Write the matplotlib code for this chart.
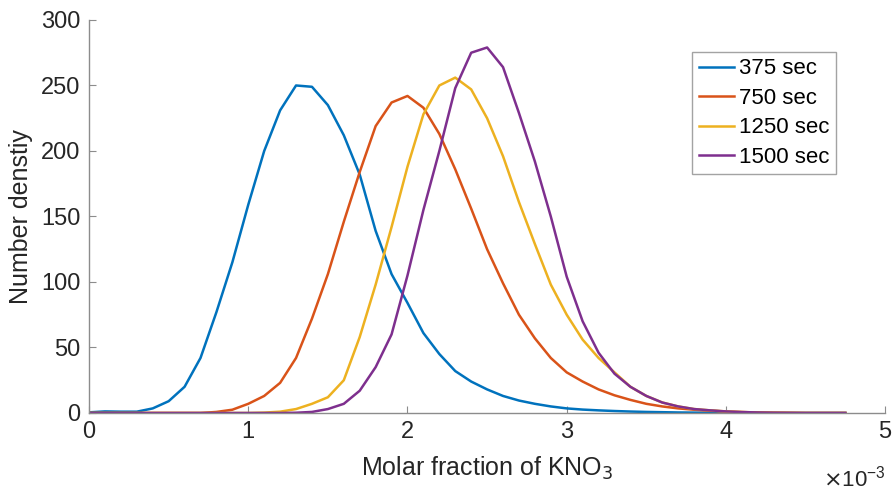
import numpy as np
import matplotlib
matplotlib.use('Agg')
import matplotlib.pyplot as plt

plt.rcParams['font.family'] = ['Liberation Sans', 'DejaVu Sans']

# molar fraction, in units of 1e-3
x = [0.0, 0.1, 0.2, 0.3, 0.4, 0.5, 0.6, 0.7, 0.8, 0.9,
     1.0, 1.1, 1.2, 1.3, 1.4, 1.5, 1.6, 1.7, 1.8, 1.9,
     2.0, 2.1, 2.2, 2.3, 2.4, 2.5, 2.6, 2.7, 2.8, 2.9,
     3.0, 3.1, 3.2, 3.3, 3.4, 3.5, 3.6, 3.7, 3.8, 3.9,
     4.0, 4.1, 4.2, 4.3, 4.4, 4.5, 4.6, 4.75]

n375 = [0.5, 1.2, 1.0, 1.0, 3.5, 9, 20, 42, 77, 115,
        159, 200, 231, 250, 249, 235, 212, 182, 139, 106,
        84, 61, 45, 32, 24, 18, 13, 9.5, 7, 5,
        3.5, 2.6, 2, 1.5, 1.1, 0.8, 0.6, 0.4, 0.3, 0.2,
        0.1, 0, 0, 0, 0, 0, 0, 0]

n750 = [0, 0, 0, 0, 0, 0, 0, 0, 0.8, 2.5,
        7, 13, 23, 42, 72, 106, 146, 184, 219, 237,
        242, 233, 213, 186, 156, 125, 99, 75, 57, 42,
        31, 24, 18, 13.5, 10, 7, 5, 3.5, 2.5, 1.7,
        1.1, 0.7, 0.4, 0.2, 0.1, 0, 0, 0]

n1250 = [0, 0, 0, 0, 0, 0, 0, 0, 0, 0,
         0, 0.3, 1, 3, 7, 12, 25, 58, 98, 142,
         188, 228, 250, 256, 247, 225, 196, 161, 129, 98,
         75, 56, 42, 31, 20, 13, 8, 5, 3, 2,
         1.2, 0.7, 0.4, 0.2, 0.1, 0, 0, 0]

n1500 = [0, 0, 0, 0, 0, 0, 0, 0, 0, 0,
         0, 0, 0, 0.2, 0.8, 3, 7, 17, 35, 60,
         105, 155, 200, 248, 275, 279, 264, 229, 192, 150,
         104, 70, 46, 30, 20, 13, 8, 5, 3, 2,
         1.2, 0.7, 0.4, 0.2, 0.1, 0, 0, 0]

labels = ['375 sec', '750 sec', '1250 sec', '1500 sec']
colors = ['#0072BD', '#D95319', '#EDB120', '#7E2F8E']

fig = plt.figure(figsize=(8.95, 4.92), dpi=100)
ax = fig.add_axes([0.0995, 0.1606, 0.8895, 0.7988])

for y, lab, c in zip([n375, n750, n1250, n1500], labels, colors):
    ax.plot(x, y, color=c, lw=1.8, label=lab)

ax.set_xlim(0, 5)
ax.set_ylim(0, 300)
ax.set_xticks([0, 1, 2, 3, 4, 5])
ax.set_yticks([0, 50, 100, 150, 200, 250, 300])

for s in ['top', 'right']:
    ax.spines[s].set_visible(False)
for s in ['left', 'bottom']:
    ax.spines[s].set_color('#8c8c8c')
    ax.spines[s].set_linewidth(1.0)

ax.tick_params(direction='in', length=5, width=0.8, color='#8c8c8c',
               labelsize=17, labelcolor='#262626', pad=6)

ax.set_xlabel('Molar fraction of KNO$_3$', fontsize=18, color='#262626', labelpad=8)
ax.set_ylabel('Number denstiy', fontsize=18, color='#262626', labelpad=6)

fig.text(0.92, 0.012, r'$\times$10$^{\mathregular{-3}}$', fontsize=16, color='#262626')

leg = ax.legend(loc='upper right', bbox_to_anchor=(0.938, 0.919), fontsize=16,
                frameon=True, fancybox=False, edgecolor='#8c8c8c',
                handlelength=1.6, handletextpad=0.2, borderpad=0.3,
                labelspacing=0.38, borderaxespad=0)
leg.get_frame().set_linewidth(1.0)

fig.savefig('out.png', dpi=100)
